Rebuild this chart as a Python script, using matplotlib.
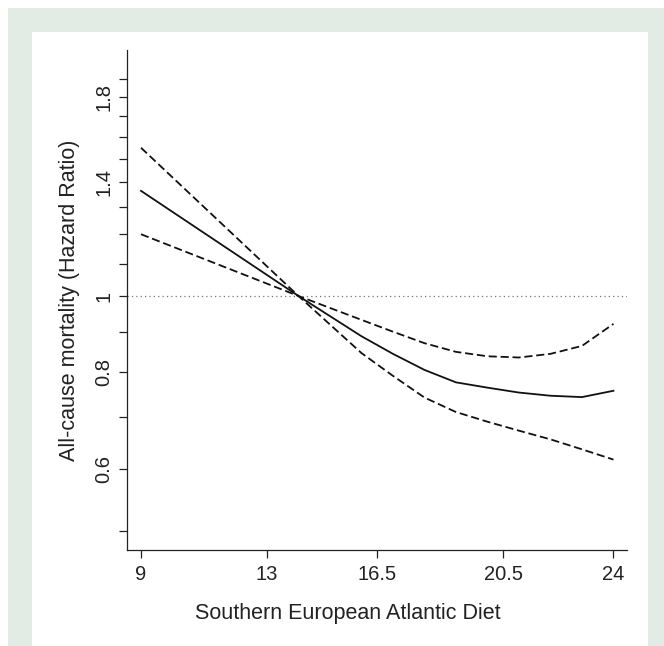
import matplotlib
matplotlib.use("Agg")
import matplotlib.pyplot as plt
from matplotlib.patches import Rectangle
from matplotlib.ticker import FixedLocator, NullFormatter

plt.rcParams['font.family'] = ['Liberation Sans', 'DejaVu Sans']

# diet score and hazard ratio (estimate + 95% CI)
score = [9, 14, 16, 17, 18, 19, 20, 21, 22, 23, 24]
hr = [1.364, 1.0, 0.888, 0.843, 0.804, 0.775, 0.763, 0.752, 0.745, 0.742, 0.756]
ci_upper = [1.2, 1.0, 0.932, 0.90, 0.87, 0.848, 0.837, 0.834, 0.843, 0.863, 0.921]
ci_lower = [1.549, 1.0, 0.845, 0.79, 0.741, 0.710, 0.690, 0.672, 0.655, 0.636, 0.617]

xticks = [9, 13, 16.5, 20.5, 24]
xticklabels = ["9", "13", "16.5", "20.5", "24"]
yticks = [0.6, 0.8, 1, 1.4, 1.8]
yticklabels = ["0.6", "0.8", "1", "1.4", "1.8"]
yminor = [0.5, 0.7, 0.9, 1.1, 1.2, 1.3, 1.5, 1.6, 1.7, 1.9]

W, H = 664, 646
fig = plt.figure(figsize=(W / 100, H / 100), dpi=100)
fig.patch.set_facecolor("white")

# green frame and white panel, behind the axes
fig.add_artist(Rectangle((8 / W, 0), 656 / W, (H - 8) / H, transform=fig.transFigure,
                         facecolor="#e3ece4", edgecolor="none", zorder=-2))
fig.add_artist(Rectangle((32 / W, 0), 616 / W, (H - 32) / H, transform=fig.transFigure,
                         facecolor="white", edgecolor="none", zorder=-1))

ax = fig.add_axes([127 / W, (H - 550) / H, 500 / W, 500 / H])
ax.set_zorder(2)
ax.set_facecolor("none")

ax.set_yscale("log")
ax.set_xlim(8.556, 24.43)
ax.set_ylim(0.4725, 2.067)

ax.axhline(1, color="#777777", lw=0.9, ls=(0, (1, 2.5)), zorder=1)
ax.plot(score, hr, color="#111111", lw=1.3, zorder=3)
ax.plot(score, ci_upper, color="#111111", lw=1.3, ls=(0, (4.5, 2.1)), zorder=3)
ax.plot(score, ci_lower, color="#111111", lw=1.3, ls=(0, (4.5, 2.1)), zorder=3)

for s in ["top", "right"]:
    ax.spines[s].set_visible(False)
for s in ["left", "bottom"]:
    ax.spines[s].set_color("#222222")
    ax.spines[s].set_linewidth(0.9)

ax.set_xticks(xticks)
ax.set_xticklabels(xticklabels)
ax.yaxis.set_major_locator(FixedLocator(yticks))
ax.set_yticklabels(yticklabels)
ax.yaxis.set_minor_locator(FixedLocator(yminor))
ax.yaxis.set_minor_formatter(NullFormatter())

ax.tick_params(axis="both", which="both", length=6, width=0.9, color="#222222",
               labelsize=14.5, labelcolor="#222222")
ax.tick_params(axis="x", pad=5)
ax.tick_params(axis="y", pad=4)
for lbl in ax.get_yticklabels():
    lbl.set_rotation(90)
    lbl.set_va("center")

ax.set_xlabel("Southern European Atlantic Diet", fontsize=15.5, color="#222222", labelpad=13)
ax.xaxis.set_label_coords(0.442, -0.105)
ax.set_ylabel("All-cause mortality (Hazard Ratio)", fontsize=15.5, color="#222222", labelpad=10)

fig.savefig("out.png", dpi=100)
